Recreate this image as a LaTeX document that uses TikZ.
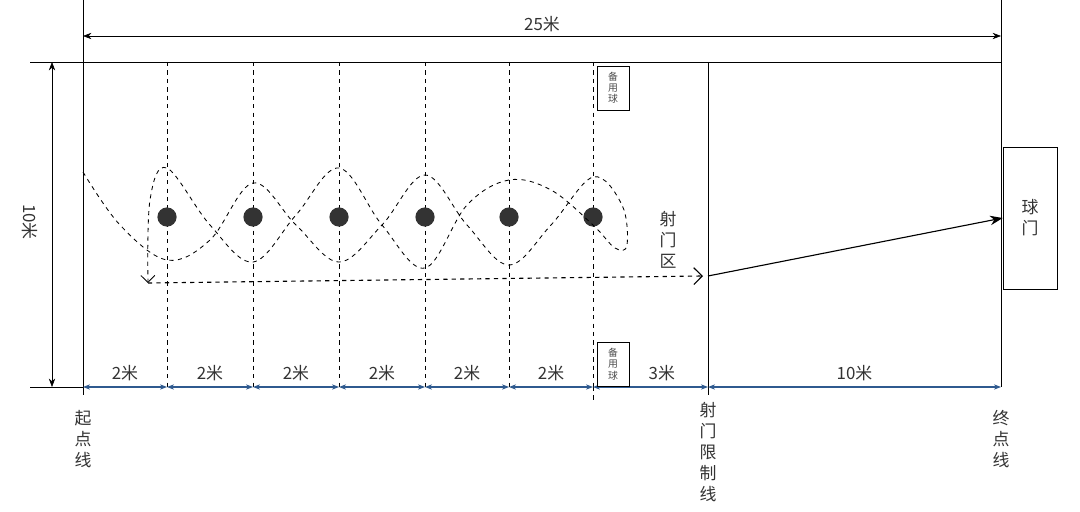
\documentclass[tikz,border=0pt]{standalone}
\usepackage{fontspec}
\setmainfont{Noto Sans CJK SC}
\usetikzlibrary{arrows.meta}
\definecolor{dimblue}{HTML}{2F5A8F}
\tikzset{
	/field/lbl/.style={font=\fontsize{12}{14}\selectfont, text=black!80, inner sep=1pt},
	/field/vlbl/.style={font=\fontsize{12}{15}\selectfont, text=black!80, align=center, inner sep=0},
	/field/spare/.style={draw, thin, minimum width=0.8cm, minimum height=1.1cm, align=center, inner sep=0, text=black!70, font=\fontsize{7}{8}\selectfont},
	/field/seg/.style={dimblue, thick, {Stealth[length=5pt]}-{Stealth[length=5pt]}},
	/field/cone/.style={circle, fill=black!80, minimum size=0.48cm, inner sep=0}
}
\begin{document}
\begin{tikzpicture}[x=0.025cm, y=-0.025cm]
				\useasboundingbox (0,0) rectangle (1080,512);
				% field outline
				\draw (83,0) -- (83,395);
				\draw (1001,0) -- (1001,387);
				\draw (30,62) -- (1001,62);
				\draw (30,387) -- (83,387);
				\draw (708,62) -- (708,395);
				% dimensions
				\path (83,36) coordinate (LT) (1001,36) coordinate (RT);
				\draw[{Stealth[length=6pt]}-{Stealth[length=6pt]}] (LT) -- node[/field/lbl, above=2pt] {25米} (RT);
				\path (52,62) coordinate (LU) (52,387) coordinate (LD);
				\draw[{Stealth[length=6pt]}-{Stealth[length=6pt]}] (LU) -- (LD);
				\node[/field/lbl, rotate=-90] (side) at (30,222) {10米};
				% dashed lines, cones, bottom segments
				\path (83,387) coordinate (x0);
				\foreach \i/\xx in {1/167, 2/253, 3/339, 4/425, 5/509, 6/593} {
					\path (\xx,387) coordinate (x\i);
					\draw[dashed, semithick] (\xx,62) -- (\xx,387);
					\node[/field/cone] (c\i) at (\xx,217) {};
				}
				\draw[dashed, semithick] (x6) -- (593,400);
				\foreach \a/\b in {0/1, 1/2, 2/3, 3/4, 4/5, 5/6} {
					\draw[/field/seg] (x\a) -- node[/field/lbl, above=3pt] {2米} (x\b);
				}
				\path (708,387) coordinate (xL) (1001,387) coordinate (xE);
				\draw[/field/seg] (x6) -- node[/field/lbl, above=3pt, xshift=8pt] {3米} (xL);
				\draw[/field/seg] (xL) -- node[/field/lbl, above=3pt] {10米} (xE);
				% spare balls
				\node[/field/spare, fill=white] (sp1) at (613,88) {备\\用\\球};
				\node[/field/spare, fill=white] (sp2) at (613,364) {备\\用\\球};
				% goal
				\node[draw, minimum width=1.35cm, minimum height=3.55cm, /field/vlbl] (goal) at (1030,218) {球\\门};
				% dribbling path
				\draw[dashed, semithick, -{Straight Barb[length=5pt]}] plot[smooth, tension=0.6] coordinates {
					(83,172) (120,225) (167,260) (210,240) (253,183) (296,225) (339,262) (382,225)
					(425,175) (467,225) (509,265) (551,225) (593,177) (622,205) (627,245) (615,248)
					(593,225) (551,190) (509,180) (467,205) (425,268) (382,225) (339,168) (296,215)
					(253,262) (210,225) (167,168) (150,200) (148,283)};
				\path (148,283) coordinate (run0) (703,276) coordinate (run1);
				\draw[thick, dashed, -{Straight Barb[length=6pt]}] (run0) -- (run1);
				\draw[thick, -{Stealth[length=9pt]}] (708,276) -- (goal.west);
				% labels
				\node[/field/vlbl] (zone) at (668,240) {射\\门\\区};
				\node[/field/vlbl, anchor=north] (start) at (83,410) {起\\点\\线};
				\node[/field/vlbl, anchor=north] (limit) at (708,402) {射\\门\\限\\制\\线};
				\node[/field/vlbl, anchor=north] (finish) at (1001,410) {终\\点\\线};
			\end{tikzpicture}
\end{document}
